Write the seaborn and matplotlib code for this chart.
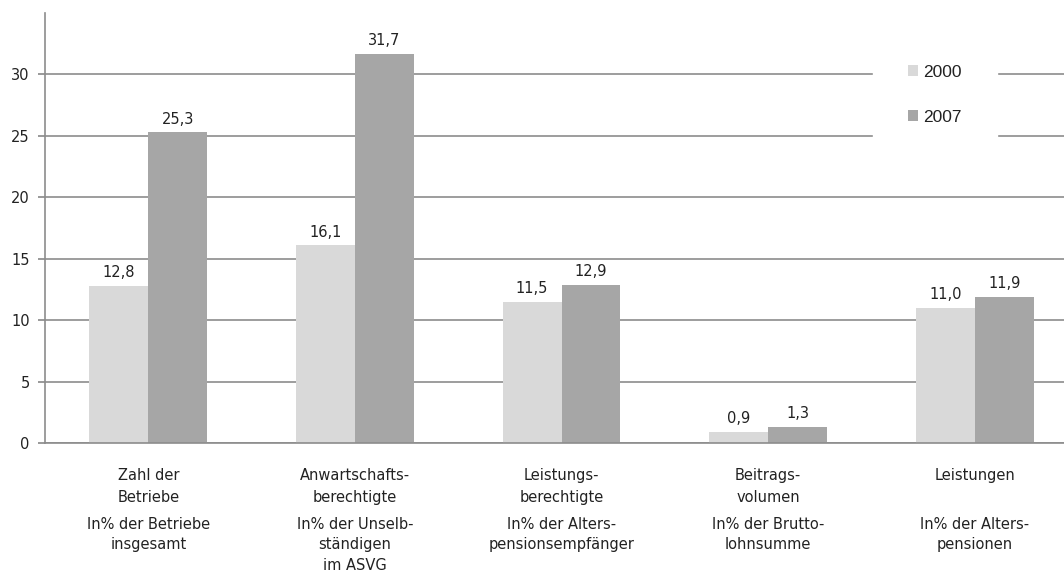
import pandas as pd
import matplotlib
matplotlib.use("Agg")
import matplotlib.pyplot as plt
import seaborn as sns

categories = ["Zahl der\nBetriebe", "Anwartschafts-\nberechtigte", "Leistungs-\nberechtigte",
              "Beitrags-\nvolumen", "Leistungen"]
subtitles = ["In% der Betriebe\ninsgesamt", "In% der Unselb-\nständigen\nim ASVG",
             "In% der Alters-\npensionsempfänger", "In% der Brutto-\nlohnsumme",
             "In% der Alters-\npensionen"]
values_2000 = [12.8, 16.1, 11.5, 0.9, 11.0]
values_2007 = [25.3, 31.7, 12.9, 1.3, 11.9]
years = ["2000", "2007"]

df = pd.DataFrame({
    "cat": categories * 2,
    "year": [years[0]] * 5 + [years[1]] * 5,
    "value": values_2000 + values_2007,
})

sns.set_theme(style="white")
plt.rcParams['font.family'] = ['DejaVu Sans']

fig = plt.figure(figsize=(10.64, 5.71), dpi=100)
ax = fig.add_axes([45 / 1064, 1 - 443 / 571, 1033 / 1064, 430 / 571])

sns.barplot(data=df, x="cat", y="value", hue="year", order=categories,
            palette={"2000": "#d9d9d9", "2007": "#a6a6a6"},
            width=0.57, gap=0, errorbar=None, saturation=1, linewidth=0,
            ax=ax, zorder=2)

# Datenbeschriftung mit Dezimalkomma
for cont in ax.containers:
    ax.bar_label(cont, labels=[f"{v:.1f}".replace(".", ",") for v in cont.datavalues],
                 padding=4, fontsize=10.5, color="#222222")

ax.set_ylim(0, 35)
ax.set_xlim(-0.5, 4.5)
ax.set_yticks(range(0, 35, 5))
ax.yaxis.grid(True, color="#8c8c8c", linewidth=1.2, zorder=0)
ax.set_axisbelow(True)

ax.spines["top"].set_visible(False)
ax.spines["right"].set_visible(False)
ax.spines["left"].set_color("#8c8c8c")
ax.spines["bottom"].set_color("#8c8c8c")
ax.spines["left"].set_linewidth(1.2)
ax.spines["bottom"].set_linewidth(1.2)

ax.tick_params(axis="y", left=True, length=5, color="#8c8c8c", labelsize=10.5,
               labelcolor="#222222", pad=6)
ax.tick_params(axis="x", bottom=False, labelsize=10.5, labelcolor="#222222", pad=12)
ax.set_xticks(range(5))
ax.set_xticklabels(categories, linespacing=1.55)
ax.set_xlabel("")
ax.set_ylabel("")

for i, s in enumerate(subtitles):
    ax.text(i, -6.0, s, ha="center", va="top", fontsize=10.5, color="#222222",
            linespacing=1.45, transform=ax.transData, clip_on=False)

leg = ax.legend(loc="upper left", bbox_to_anchor=(873 / 1064, 1 - 30 / 571),
                bbox_transform=fig.transFigure,
                frameon=True, fontsize=12.5, handlelength=0.6, handleheight=0.6,
                handletextpad=0.3, labelspacing=1.75, borderpad=2.0, borderaxespad=0)
leg.get_frame().set_edgecolor("white")
leg.get_frame().set_facecolor("white")
leg.get_frame().set_alpha(1)
leg.get_frame().set_boxstyle("square", pad=0)
for txt in leg.get_texts():
    txt.set_family(["Liberation Sans", "DejaVu Sans"])
    txt.set_color("#222222")

fig.savefig("out.png", dpi=100)
